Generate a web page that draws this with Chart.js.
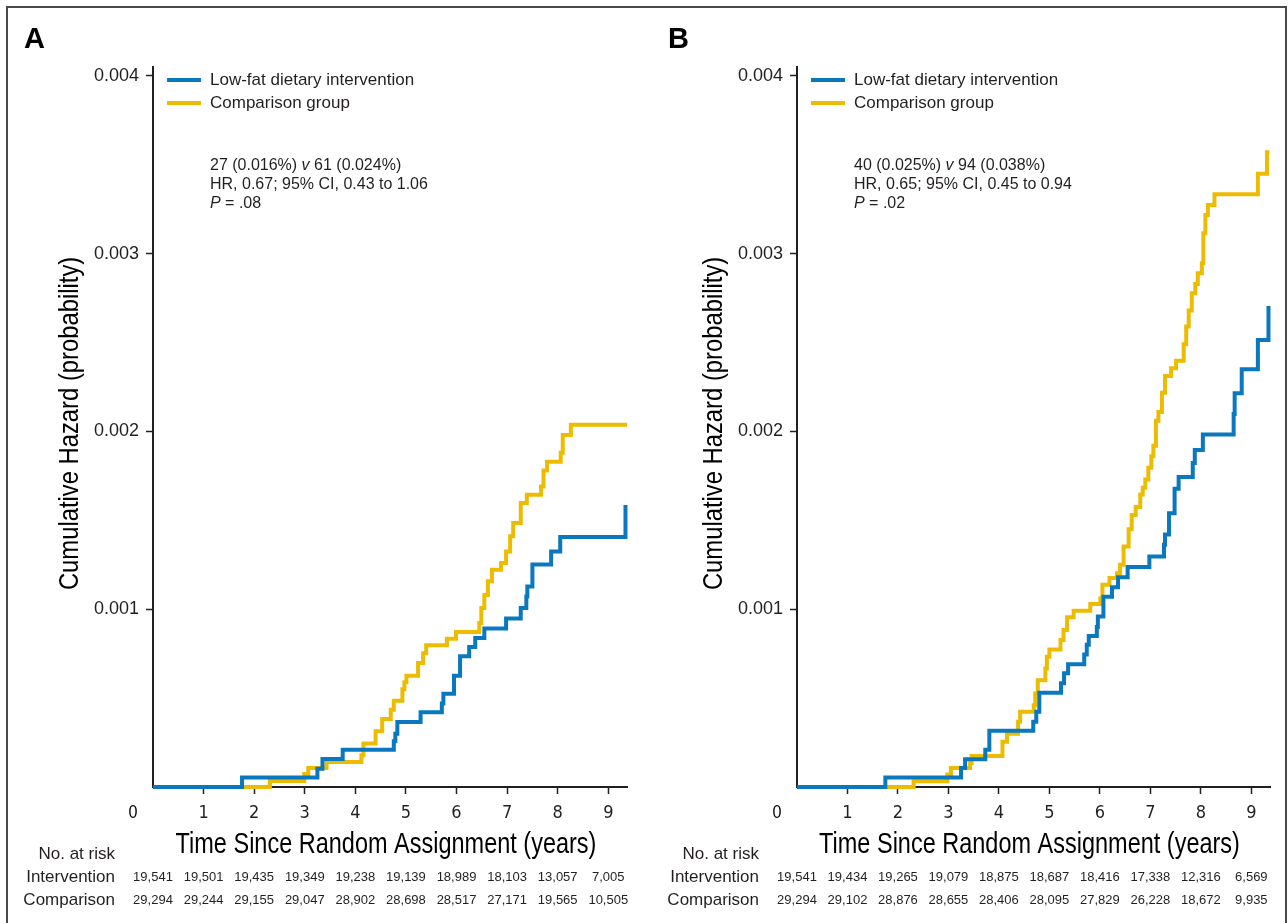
<!DOCTYPE html>
<html>
<head>
<meta charset="utf-8">
<script src="https://cdn.jsdelivr.net/npm/chart.js@4.4.1/dist/chart.umd.min.js"></script>
<style>
html, body { margin: 0; padding: 0; background: #fff; }
#wrap { position: relative; width: 1288px; height: 923px; overflow: hidden; }
#frame { position: absolute; left: 6px; top: 6px; width: 1281px; height: 960px; border: 2px solid #4a4a4a; box-sizing: border-box; }
canvas { position: absolute; top: 0; }
</style>
</head>
<body>
<div id="wrap">
  <div id="frame"></div>
  <canvas id="chartA" width="644" height="923" style="left:0"></canvas>
  <canvas id="chartB" width="644" height="923" style="left:644px"></canvas>
</div>
<script>
// series names and risk table columns
const seriesNames = ['Low-fat dietary intervention', 'Comparison group'];
const riskYears = [0, 1, 2, 3, 4, 5, 6, 7, 8, 9];
const xTitle = 'Time Since Random Assignment (years)';
const yTitle = 'Cumulative Hazard (probability)';

// panel A - step points (time in years, cumulative hazard)
const aIntTime = [0, 1.76, 3.25, 3.35, 3.75, 4.76, 4.79, 4.83, 5.29, 5.71, 5.74, 5.95, 6.07, 6.25, 6.37, 6.55, 6.98, 7.27, 7.38, 7.40, 7.50, 7.87, 8.05, 9.34];
const aIntHaz = [0, 0.000054, 0.000103, 0.000157, 0.000210, 0.000257, 0.000300, 0.000365, 0.000420, 0.000469, 0.000525, 0.000626, 0.000735, 0.000787, 0.000838, 0.000892, 0.000948, 0.001007, 0.001072, 0.001128, 0.001252, 0.001325, 0.001406, 0.001586];
const aCmpTime = [0, 2.31, 2.99, 3.07, 3.43, 4.12, 4.16, 4.40, 4.53, 4.70, 4.76, 4.93, 4.97, 5.01, 5.24, 5.34, 5.40, 5.81, 5.99, 6.45, 6.49, 6.55, 6.62, 6.70, 6.88, 6.98, 7.06, 7.12, 7.27, 7.39, 7.67, 7.72, 7.79, 8.06, 8.10, 8.26, 9.37];
const aCmpHaz = [0, 0.000034, 0.000073, 0.000107, 0.000140, 0.000178, 0.000244, 0.000313, 0.000382, 0.000435, 0.000485, 0.000550, 0.000589, 0.000626, 0.000697, 0.000753, 0.000797, 0.000834, 0.000872, 0.000922, 0.001007, 0.001080, 0.001157, 0.001222, 0.001260, 0.001325, 0.001410, 0.001485, 0.001597, 0.001644, 0.001690, 0.001780, 0.001830, 0.001880, 0.001980, 0.002037, 0.002037];

// panel B
const bIntTime = [0, 1.75, 3.25, 3.33, 3.73, 3.81, 4.68, 4.74, 4.80, 5.23, 5.29, 5.37, 5.69, 5.74, 5.78, 5.94, 5.96, 6.07, 6.24, 6.36, 6.55, 6.98, 7.27, 7.29, 7.37, 7.48, 7.56, 7.84, 7.88, 8.04, 8.65, 8.67, 8.81, 9.13, 9.34];
const bIntHaz = [0, 0.000053, 0.000107, 0.000156, 0.000210, 0.000316, 0.000367, 0.000423, 0.000530, 0.000583, 0.000640, 0.000690, 0.000746, 0.000800, 0.000850, 0.000900, 0.000959, 0.001070, 0.001124, 0.001180, 0.001237, 0.001297, 0.001363, 0.001420, 0.001540, 0.001677, 0.001744, 0.001823, 0.001895, 0.001983, 0.002098, 0.002215, 0.002350, 0.002515, 0.002706];
const bCmpTime = [0, 2.31, 2.98, 3.05, 3.43, 3.46, 4.07, 4.16, 4.38, 4.42, 4.69, 4.72, 4.77, 4.92, 4.95, 5.00, 5.22, 5.28, 5.35, 5.48, 5.81, 6.01, 6.05, 6.19, 6.34, 6.40, 6.47, 6.57, 6.63, 6.71, 6.80, 6.85, 6.90, 6.96, 7.02, 7.06, 7.11, 7.16, 7.23, 7.29, 7.41, 7.51, 7.66, 7.71, 7.76, 7.82, 7.89, 7.94, 8.02, 8.05, 8.09, 8.14, 8.27, 9.13, 9.31, 9.36];
const bCmpHaz = [0, 0.000032, 0.000070, 0.000107, 0.000135, 0.000175, 0.000254, 0.000300, 0.000367, 0.000423, 0.000460, 0.000526, 0.000600, 0.000667, 0.000733, 0.000774, 0.000827, 0.000883, 0.000955, 0.000992, 0.001030, 0.001060, 0.001137, 0.001175, 0.001203, 0.001250, 0.001353, 0.001450, 0.001530, 0.001575, 0.001645, 0.001683, 0.001730, 0.001796, 0.001860, 0.001920, 0.002060, 0.002110, 0.002217, 0.002312, 0.002355, 0.002398, 0.002490, 0.002590, 0.002680, 0.002777, 0.002830, 0.002890, 0.002946, 0.003115, 0.003218, 0.003274, 0.003334, 0.003449, 0.003571, 0.003571];

// numbers at risk
const aRiskInt = ['19,541', '19,501', '19,435', '19,349', '19,238', '19,139', '18,989', '18,103', '13,057', '7,005'];
const aRiskCmp = ['29,294', '29,244', '29,155', '29,047', '28,902', '28,698', '28,517', '27,171', '19,565', '10,505'];
const bRiskInt = ['19,541', '19,434', '19,265', '19,079', '18,875', '18,687', '18,416', '17,338', '12,316', '6,569'];
const bRiskCmp = ['29,294', '29,102', '28,876', '28,655', '28,406', '28,095', '27,829', '26,228', '18,672', '9,935'];

// stats text, [text, italic]
const aStats = [
    [['27 (0.016%) ', false], ['v', true], [' 61 (0.024%)', false]],
    [['HR, 0.67; 95% CI, 0.43 to 1.06', false]],
    [['P', true], [' = .08', false]]
];
const bStats = [
    [['40 (0.025%) ', false], ['v', true], [' 94 (0.038%)', false]],
    [['HR, 0.65; 95% CI, 0.45 to 0.94', false]],
    [['P', true], [' = .02', false]]
];

const BLUE = '#0a78be';
const YELLOW = '#edbc00';
const INK = '#231f20';
const SANS = '"Liberation Sans", Arial, sans-serif';
const NARROW = '"Liberation Sans Narrow", "DejaVu Sans Condensed", sans-serif';

// condensed text: Helvetica Condensed look by squeezing Liberation Sans
function narrowText(ctx, text, x, y, size, squeeze, rot) {
    ctx.save();
    ctx.translate(x, y);
    if (rot) ctx.rotate(rot);
    ctx.scale(squeeze, 1);
    ctx.font = size + 'px ' + SANS;
    ctx.textAlign = 'center';
    ctx.textBaseline = 'middle';
    ctx.fillText(text, 0, 0);
    ctx.restore();
}

const decor = {
    id: 'decor',
    afterDraw(chart, args, opts) {
        const { ctx, chartArea, scales: { x, y } } = chart;
        const left = chartArea.left;
        const base = y.getPixelForValue(0);
        const top = y.getPixelForValue(0.004);
        ctx.save();
        ctx.fillStyle = '#000';
        ctx.textAlign = 'left';
        ctx.textBaseline = 'alphabetic';
        ctx.font = 'bold 29px ' + SANS;
        ctx.fillText(opts.letter, 24, 48);

        // legend
        ctx.textBaseline = 'middle';
        chart.data.datasets.forEach((ds, i) => {
            const ly = top + 4 + i * 23;
            ctx.strokeStyle = ds.borderColor;
            ctx.lineWidth = 4;
            ctx.beginPath();
            ctx.moveTo(left + 14, ly);
            ctx.lineTo(left + 48, ly);
            ctx.stroke();
            ctx.fillStyle = INK;
            ctx.font = '17px ' + SANS;
            ctx.fillText(ds.label, left + 57, ly);
        });

        // stats
        opts.stats.forEach((line, i) => {
            let sx = left + 57;
            const sy = top + 90 + i * 19;
            line.forEach(([t, it]) => {
                ctx.font = (it ? 'italic ' : '') + '16px ' + SANS;
                ctx.fillText(t, sx, sy);
                sx += ctx.measureText(t).width;
            });
        });

        // axis titles
        ctx.fillStyle = '#000';
        narrowText(ctx, xTitle, (left + chartArea.right) / 2 - 4, base + 58, 29, 0.81, 0);
        narrowText(ctx, yTitle, left - 83, (top + base) / 2 - 8, 28, 0.85, -Math.PI / 2);

        // origin label
        narrowText(ctx, '0', left - 20, base + 26, 19, 0.85, 0);

        // risk table
        ctx.fillStyle = INK;
        ctx.textAlign = 'right';
        ctx.textBaseline = 'middle';
        ctx.font = '17px ' + SANS;
        ctx.fillText('No. at risk', left - 38, base + 67);
        ctx.fillText('Intervention', left - 38, base + 90);
        ctx.fillText('Comparison', left - 38, base + 113);
        ctx.textAlign = 'center';
        ctx.font = '13px ' + SANS;
        riskYears.forEach((yr, i) => {
            const px = x.getPixelForValue(yr);
            ctx.fillText(opts.riskInt[i], px, base + 90);
            ctx.fillText(opts.riskCmp[i], px, base + 113);
        });
        ctx.restore();
    }
};

function makeChart(id, intT, intH, cmpT, cmpH, opts) {
    const toPts = (t, h) => t.map((v, i) => ({ x: v, y: h[i] }));
    return new Chart(document.getElementById(id), {
        type: 'line',
        data: {
            datasets: [
                { label: seriesNames[0], data: toPts(intT, intH), borderColor: BLUE, borderWidth: 4, stepped: 'before', pointRadius: 0, fill: false, clip: false },
                { label: seriesNames[1], data: toPts(cmpT, cmpH), borderColor: YELLOW, borderWidth: 4, stepped: 'before', pointRadius: 0, fill: false, clip: false }
            ]
        },
        options: {
            responsive: false,
            animation: false,
            devicePixelRatio: 1,
            layout: { padding: { top: 67, right: opts.padRight, bottom: 61, left: 0 } },
            plugins: {
                legend: { display: false },
                tooltip: { enabled: false },
                decor: opts
            },
            scales: {
                x: {
                    type: 'linear',
                    min: 0,
                    max: 9.37,
                    afterBuildTicks: ax => { ax.ticks = ax.ticks.filter(t => t.value >= 1 && t.value <= 9); },
                    afterFit: s => { s.height = 75; },
                    ticks: { stepSize: 1, includeBounds: false, autoSkip: false, maxRotation: 0, padding: 9, color: INK, font: { family: NARROW, size: 18 } },
                    grid: { drawOnChartArea: false, drawTicks: true, tickLength: 7, tickWidth: 1.5, tickColor: INK },
                    border: { display: true, width: 2, color: INK },
                    title: { display: false }
                },
                y: {
                    type: 'linear',
                    min: 0,
                    max: 0.00405,
                    afterBuildTicks: ax => { ax.ticks = ax.ticks.filter(t => t.value > 0.0005 && t.value < 0.00401); },
                    afterFit: s => { s.width = 153; },
                    ticks: { stepSize: 0.001, includeBounds: false, padding: 7, color: INK, font: { family: SANS, size: 18 }, callback: v => v.toFixed(3) },
                    grid: { drawOnChartArea: false, drawTicks: true, tickLength: 7, tickWidth: 1.5, tickColor: INK },
                    border: { display: true, width: 2, color: INK },
                    title: { display: false }
                }
            }
        },
        plugins: [decor]
    });
}

makeChart('chartA', aIntTime, aIntHaz, aCmpTime, aCmpHaz, { letter: 'A', stats: aStats, riskInt: aRiskInt, riskCmp: aRiskCmp, padRight: 17 });
makeChart('chartB', bIntTime, bIntHaz, bCmpTime, bCmpHaz, { letter: 'B', stats: bStats, riskInt: bRiskInt, riskCmp: bRiskCmp, padRight: 18 });
</script>
</body>
</html>
